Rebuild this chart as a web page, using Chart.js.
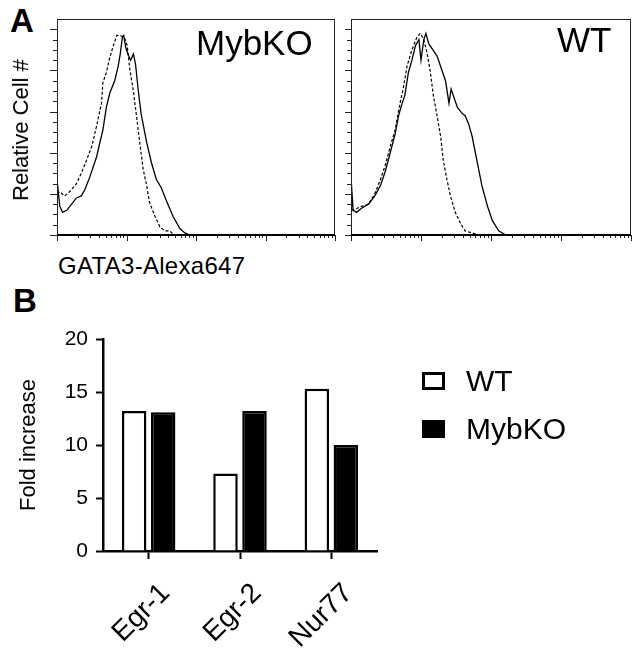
<!DOCTYPE html>
<html>
<head>
<meta charset="utf-8">
<script src="https://cdn.jsdelivr.net/npm/chart.js@4/dist/chart.umd.min.js"></script>
<style>
  body { margin: 0; background: #fff; font-family: 'Liberation Sans', Arial, sans-serif; color: #000; }
  #page { position: relative; width: 640px; height: 667px; overflow: hidden; }
  canvas { position: absolute; }
  .txt { position: absolute; white-space: nowrap; }
  .panel { font-weight: bold; font-size: 33px; line-height: 33px; }
  .key { position: absolute; width: 17px; height: 12px; border: 3px solid #000; }
</style>
</head>
<body>
<div id="page">
  <div class="txt panel" style="left:10px; top:4px;">A</div>
  <div class="txt panel" style="left:13px; top:284px;">B</div>

  <canvas id="histKO" width="345" height="250" style="left:0; top:0;"></canvas>
  <canvas id="histWT" width="295" height="250" style="left:345px; top:0;"></canvas>
  <div class="txt" style="left:196px; top:25px; font-size:35px; line-height:35px;">MybKO</div>
  <div class="txt" style="left:557px; top:22px; font-size:35px; line-height:35px;">WT</div>
  <div class="txt" style="left:21px; top:130px; font-size:22px; line-height:22px; transform:translate(-50%,-50%) rotate(-90deg);">Relative Cell #</div>
  <div class="txt" style="left:58px; top:254px; font-size:24px; line-height:24px; letter-spacing:0.3px;">GATA3-Alexa647</div>

  <canvas id="barChart" width="640" height="387" style="left:0; top:280px;"></canvas>
  <div id="legend"></div>
</div>
<script>
// panel A: GATA3 histograms, x in log decades, y in % of max
const mybStainedX = [0, 0.04, 0.08, 0.14, 0.21, 0.28, 0.35, 0.40, 0.47, 0.52, 0.57, 0.61, 0.66, 0.71, 0.76, 0.83, 0.88, 0.91, 0.94, 0.96, 0.99, 1.02, 1.06, 1.10, 1.13, 1.17, 1.21, 1.29, 1.36, 1.43, 1.50, 1.57, 1.67, 1.77, 1.84, 1.91, 4];
const mybStainedY = [27, 14, 11, 12, 15, 18, 19, 22, 28, 33, 38, 44, 51, 62, 69, 75, 82, 88, 96, 97, 91, 88, 85, 88, 83, 70, 59, 45, 35, 27, 23, 17, 9, 3, 1, 0, 0];
const mybControlX = [0, 0.04, 0.11, 0.18, 0.28, 0.35, 0.42, 0.50, 0.57, 0.64, 0.66, 0.71, 0.75, 0.80, 0.86, 0.91, 0.97, 1.01, 1.05, 1.09, 1.14, 1.19, 1.24, 1.29, 1.33, 1.41, 1.48, 1.55, 1.62, 1.69, 4];
const mybControlY = [20, 21, 19, 21, 25, 30, 36, 43, 53, 64, 74, 79, 85, 91, 97, 97, 96, 92, 80, 72, 59, 45, 32, 24, 16, 9, 4, 2, 2, 0, 0];
const wtStainedX = [0, 0.03, 0.08, 0.15, 0.25, 0.34, 0.42, 0.49, 0.56, 0.63, 0.68, 0.73, 0.77, 0.82, 0.87, 0.92, 0.97, 1.00, 1.04, 1.07, 1.11, 1.17, 1.23, 1.30, 1.35, 1.40, 1.43, 1.47, 1.52, 1.59, 1.63, 1.68, 1.73, 1.80, 1.87, 1.95, 2.02, 2.11, 2.21, 4];
const wtStainedY = [28, 12, 11, 13, 15, 19, 24, 31, 40, 49, 58, 64, 68, 79, 85, 92, 95, 85, 95, 98, 93, 90, 87, 80, 75, 64, 71, 67, 62, 59, 58, 54, 48, 36, 24, 14, 7, 2, 0, 0];
const wtControlX = [0, 0.03, 0.15, 0.25, 0.34, 0.42, 0.49, 0.56, 0.63, 0.70, 0.75, 0.80, 0.87, 0.94, 0.99, 1.04, 1.09, 1.13, 1.18, 1.23, 1.28, 1.32, 1.37, 1.42, 1.49, 1.56, 1.63, 1.73, 1.82, 4];
const wtControlY = [20, 12, 14, 15, 20, 27, 34, 43, 51, 64, 72, 82, 90, 96, 98, 95, 88, 80, 67, 58, 48, 36, 27, 19, 11, 6, 2, 1, 0, 0];

// panel B: fold increase
const genes = ['Egr-1', 'Egr-2', 'Nur77'];
const wtFold = [13.2, 7.3, 15.3];
const mybFold = [13.1, 13.2, 10.0];
const foldTicks = [0, 5, 10, 15, 20];

Chart.defaults.font.family = "'Liberation Sans', Arial, sans-serif";
Chart.defaults.color = '#000';
Chart.defaults.animation = false;

function toPoints(xs, ys) {
    return xs.map((x, i) => ({ x: x, y: ys[i] }));
}

// frame box + log ticks for the flow histograms
const histFrame = {
    id: 'histFrame',
    afterDraw(chart) {
        const { ctx, chartArea: a, scales: { x, y } } = chart;
        ctx.save();
        ctx.strokeStyle = '#222';
        ctx.lineWidth = 1;
        ctx.strokeRect(a.left + 0.5, a.top + 0.5, a.right - a.left - 1, a.bottom - a.top);
        ctx.beginPath();
        for (let v = 0; v <= 100; v += 5) {
            const py = Math.round(y.getPixelForValue(v)) + 0.5;
            const len = v % 20 === 0 ? 7 : 4;
            ctx.moveTo(a.left - len, py);
            ctx.lineTo(a.left, py);
        }
        for (let d = 0; d <= 4; d++) {
            for (let m = 1; m < 10; m++) {
                if (d === 4 && m > 1) break;
                const px = Math.round(x.getPixelForValue(d + Math.log10(m))) + 0.5;
                const len = m === 1 ? 6 : 3;
                ctx.moveTo(px, a.bottom);
                ctx.lineTo(px, a.bottom + len);
            }
        }
        ctx.stroke();
        ctx.lineWidth = 2;
        ctx.strokeStyle = '#000';
        ctx.beginPath();
        ctx.moveTo(a.left, a.bottom);
        ctx.lineTo(a.right, a.bottom);
        ctx.stroke();
        ctx.restore();
    }
};

function makeHist(id, stX, stY, ctX, ctY, pad) {
    new Chart(document.getElementById(id), {
        type: 'line',
        data: {
            datasets: [{
                data: toPoints(ctX, ctY),
                borderColor: '#000',
                borderWidth: 1.2,
                borderDash: [3, 2],
                pointRadius: 0,
                tension: 0
            }, {
                data: toPoints(stX, stY),
                borderColor: '#000',
                borderWidth: 1.3,
                pointRadius: 0,
                tension: 0
            }]
        },
        options: {
            responsive: false,
            layout: { padding: pad },
            plugins: { legend: { display: false }, tooltip: { enabled: false } },
            scales: {
                x: { type: 'linear', min: 0, max: 4, display: false },
                y: { min: 0, max: 105, display: false }
            }
        },
        plugins: [histFrame]
    });
}

makeHist('histKO', mybStainedX, mybStainedY, mybControlX, mybControlY, { left: 57, right: 10, top: 19, bottom: 15 });
makeHist('histWT', wtStainedX, wtStainedY, wtControlX, wtControlY, { left: 6, right: 9, top: 19, bottom: 15 });

// bar chart
const barChart = new Chart(document.getElementById('barChart'), {
    type: 'bar',
    data: {
        labels: genes,
        datasets: [{
            label: 'WT',
            data: wtFold,
            backgroundColor: '#fff',
            borderColor: '#000',
            borderWidth: 2.5,
            barPercentage: 0.845,
            categoryPercentage: 0.635
        }, {
            label: 'MybKO',
            data: mybFold,
            backgroundColor: '#000',
            borderColor: '#000',
            borderWidth: 2.5,
            barPercentage: 0.845,
            categoryPercentage: 0.635
        }]
    },
    options: {
        responsive: false,
        layout: { padding: { left: 0, top: 59, right: 263, bottom: 0 } },
        plugins: { legend: { display: false }, tooltip: { enabled: false } },
        scales: {
            x: {
                grid: { display: true, drawOnChartArea: false, offset: false, tickLength: 8, tickWidth: 2, tickColor: '#000' },
                border: { color: '#000', width: 2.5 },
                ticks: { font: { size: 28 }, color: '#000', minRotation: 45, maxRotation: 45, labelOffset: 17, padding: 18 },
                afterFit(scale) { scale.height = 116; }
            },
            y: {
                min: 0,
                max: 20,
                afterBuildTicks(scale) { scale.ticks = foldTicks.map(v => ({ value: v })); },
                grid: { display: true, drawOnChartArea: false, tickLength: 7, tickWidth: 2, tickColor: '#000' },
                border: { color: '#000', width: 2.5 },
                ticks: { font: { size: 21 }, color: '#000', padding: 8 },
                title: { display: true, text: 'Fold increase', font: { size: 22 }, color: '#000', padding: { top: 16, bottom: 0 } },
                afterFit(scale) { scale.width = 103; }
            }
        }
    }
});

// legend built from the datasets
const legendBox = document.getElementById('legend');
const legendTops = [372, 420];
barChart.data.datasets.forEach((ds, i) => {
    const sw = document.createElement('div');
    sw.className = 'key';
    sw.style.left = '422px';
    sw.style.top = legendTops[i] + 'px';
    sw.style.background = ds.backgroundColor;
    legendBox.appendChild(sw);
    const t = document.createElement('div');
    t.className = 'txt';
    t.style.left = '466px';
    t.style.top = (legendTops[i] - 6) + 'px';
    t.style.fontSize = '30px';
    t.style.lineHeight = '30px';
    t.textContent = ds.label;
    legendBox.appendChild(t);
});
</script>
</body>
</html>
